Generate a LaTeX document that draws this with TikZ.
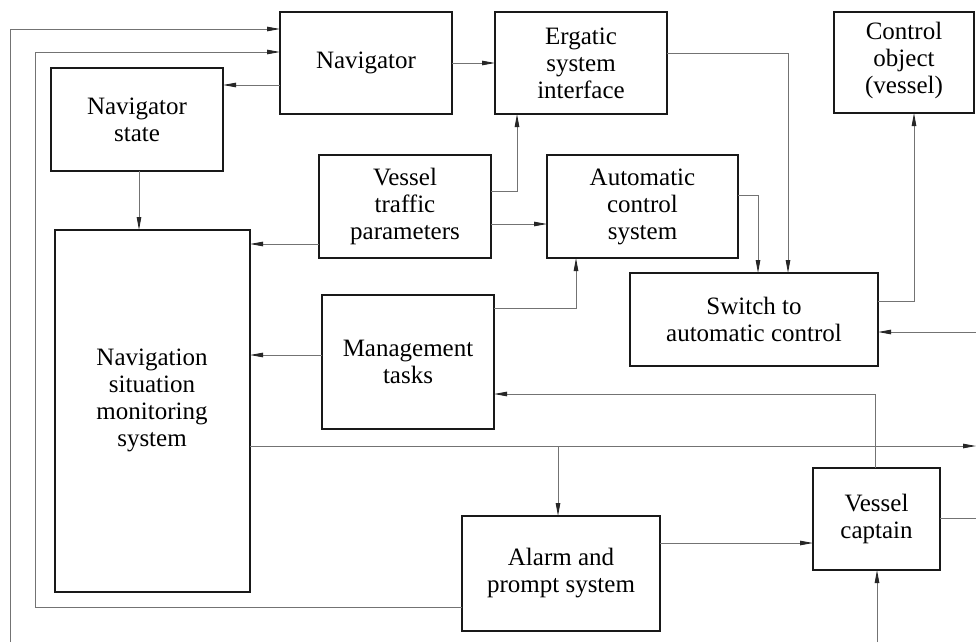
\documentclass[tikz,border=0pt]{standalone}
\usepackage{fontspec}
\setmainfont{Liberation Serif}
\usetikzlibrary{arrows.meta}
\begin{document}
\begin{tikzpicture}[x=1pt,y=-1pt,
  box/.style={draw=black!90,line width=1.8pt,rectangle,inner sep=0pt,outer sep=0pt,align=center,
    font=\fontsize{25}{27}\selectfont},
  conn/.style={draw=black!55,line width=0.9pt},
  arr/.style={conn,-{Triangle[length=13pt,width=4.5pt,color=black!85]}}]
\useasboundingbox[fill=white] (0,0) rectangle (976,642);
% boxes
\node[box,minimum width=172pt,minimum height=102pt] (nav) at (366,63) {Navigator};
\node[box,minimum width=172pt,minimum height=102pt] (erg) at (581,63) {Ergatic\\system\\interface};
\node[box,minimum width=140pt,minimum height=101pt] (ctrl) at (904,62.5) {};
\node[font=\fontsize{25}{27}\selectfont,align=center] (ctrlt) at (904,60) {Control\\object\\(vessel)};
\node[box,minimum width=172pt,minimum height=103pt] (navst) at (137,119.5) {Navigator\\state};
\node[box,minimum width=195pt,minimum height=362pt] (nsms) at (152.5,411) {};
\node[font=\fontsize{25}{27}\selectfont,align=center] (nsmst) at (152,400) {Navigation\\situation\\monitoring\\system};
\node[box,minimum width=172pt,minimum height=103pt] (vtp) at (405,206.5) {Vessel\\traffic\\parameters};
\node[box,minimum width=191pt,minimum height=103pt] (acs) at (642.5,206.5) {Automatic\\control\\system};
\node[box,minimum width=248pt,minimum height=93pt] (sw) at (754,319.5) {Switch to\\automatic control};
\node[box,minimum width=172pt,minimum height=134pt] (mgmt) at (408,362) {Management\\tasks};
\node[box,minimum width=198pt,minimum height=115pt] (alarm) at (561,573.5) {Alarm and\\prompt system};
\node[box,minimum width=127pt,minimum height=102pt] (capt) at (876.5,519) {Vessel\\captain};
% free ends
\coordinate (in1) at (10,642);
\coordinate (out1) at (976,446);
\coordinate (br) at (558,446);
\coordinate (out2) at (976,518);
\coordinate (in3) at (877,642);
\coordinate (in4) at (976,332);
% connectors
\draw[arr] (in1) |- (nav.west |- 0,29);
\draw[arr] (alarm.west |- 0,607) -| (35,52) -- (nav.west |- 0,52);
\draw[arr] (nav.west |- 0,85) -- (navst.east |- 0,85);
\draw[arr] (navst.south -| 139,0) -- (nsms.north -| 139,0);
\draw[arr] (nav.east) -- (erg.west);
\draw[arr] (erg.east |- 0,53) -| (sw.north -| 788,0);
\draw[arr] (vtp.east |- 0,191) -| (erg.south -| 517,0);
\draw[arr] (vtp.east |- 0,224) -- (acs.west |- 0,224);
\draw[arr] (vtp.west |- 0,244) -- (nsms.east |- 0,244);
\draw[arr] (acs.east |- 0,195) -| (sw.north -| 758,0);
\draw[arr] (mgmt.east |- 0,308) -| (acs.south -| 576,0);
\draw[arr] (mgmt.west |- 0,355) -- (nsms.east |- 0,355);
\draw[arr] (capt.north -| 875,0) |- (mgmt.east |- 0,394);
\draw[arr] (nsms.east |- 0,446) -- (out1);
\draw[arr] (br) -- (alarm.north -| br);
\draw[arr] (alarm.east |- 0,543) -- (capt.west |- 0,543);
\draw[conn] (capt.east |- 0,518) -- (out2);
\draw[arr] (in3) -- (capt.south -| in3);
\draw[arr] (in4) -- (sw.east |- 0,332);
\draw[arr] (sw.east |- 0,301) -| (ctrl.south -| 914,0);
\end{tikzpicture}
\end{document}
